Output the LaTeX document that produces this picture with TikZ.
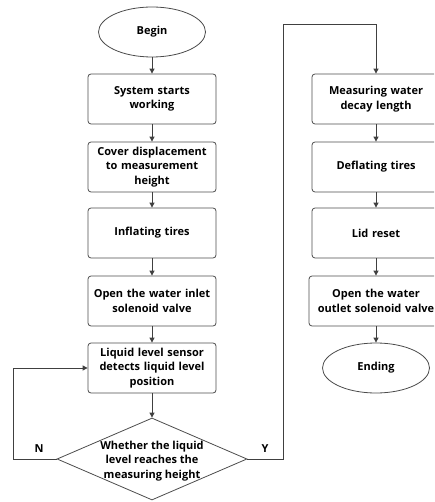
\documentclass[tikz,border=0pt]{standalone}
\usepackage{fontspec}
\setmainfont{Open Sans}
\usetikzlibrary{shapes.geometric,arrows.meta}
\begin{document}
\begin{tikzpicture}[x=1pt,y=-1pt,
  box/.style={draw=black!70,line width=0.8pt,rounded corners=3pt,minimum width=128pt,minimum height=50pt,inner sep=1pt,text width=126pt,align=center,font=\fontsize{11}{14.5}\selectfont\bfseries},
  term/.style={draw=black!70,line width=0.8pt,ellipse,minimum width=107pt,minimum height=50pt,inner sep=0pt,font=\fontsize{11}{14.5}\selectfont\bfseries},
  arr/.style={draw=black!75,line width=0.9pt,-{Triangle[length=5pt,width=5pt]}},
  lab/.style={font=\fontsize{11}{13}\selectfont\bfseries}]
\useasboundingbox (0,0) rectangle (434,502);
\clip (0,0) rectangle (434,502);
\node[term] (begin) at (152,32) {Begin};
\node[box] (b1) at (152,99) {System starts\\working};
\node[box] (b2) at (152,167) {Cover displacement\\to measurement\\height};
\node[box] (b3) at (152,233) {Inflating tires};
\node[box] (b4) at (152,301) {Open the water inlet\\solenoid valve};
\node[box] (b5) at (152,368) {Liquid level sensor\\detects liquid level\\position};
\node[draw=black!70,line width=0.8pt,diamond,minimum width=190pt,minimum height=82pt,inner sep=0pt] (d) at (152,459) {};
\node[align=center,font=\fontsize{11}{14.5}\selectfont\bfseries] (dt) at (152,461) {Whether the liquid\\level reaches the\\measuring height};
\node[box] (r1) at (376,99) {Measuring water\\decay length};
\node[box] (r2) at (376,167) {Deflating tires};
\node[box] (r3) at (376,233) {Lid reset};
\node[box,text width=132pt] (r4) at (376,301) {Open the water\\outlet solenoid valve};
\node[term] (end) at (376,368) {Ending};
\coordinate (nl) at (13,459);
\coordinate (nu) at (13,368);
\coordinate (yr) at (283,459);
\coordinate (yu) at (283,24);
\coordinate (yt) at (376,24);
\node[lab] (N) at (39,449) {N};
\node[lab] (Y) at (265,449) {Y};
\draw[arr] (begin) -- (b1);
\draw[arr] (b1) -- (b2);
\draw[arr] (b2) -- (b3);
\draw[arr] (b3) -- (b4);
\draw[arr] (b4) -- (b5);
\draw[arr] (b5) -- (d.north);
\draw[arr] (d.west) -- (nl) -- (nu) -- (b5.west);
\draw[arr] (d.east) -- (yr) -- (yu) -- (yt) -- (r1.north);
\draw[arr] (r1) -- (r2);
\draw[arr] (r2) -- (r3);
\draw[arr] (r3) -- (r4);
\draw[arr] (r4) -- (end);
\end{tikzpicture}
\end{document}
